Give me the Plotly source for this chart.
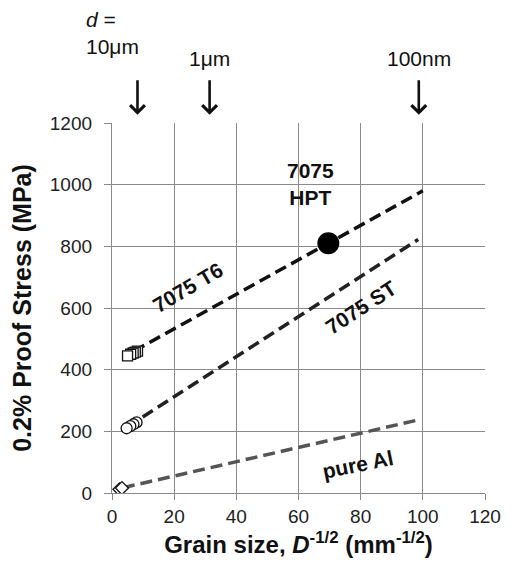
import plotly.graph_objects as go

# Measured data: grain size parameter D^-1/2 (mm^-1/2) vs 0.2% proof stress (MPa)
t6_x = [5.0, 6.0, 6.8, 7.5, 8.2]
t6_y = [445, 450, 454, 457, 460]
st_x = [4.7, 5.9, 6.9, 7.9]
st_y = [210, 217, 223, 229]
al_x = [2.4, 3.2]
al_y = [12, 16]
hpt_x = [69.6]
hpt_y = [810]

# Hall-Petch fit lines (end points)
t6_fit_x = [7.0, 100.0]
t6_fit_y = [460, 980]
st_fit_x = [5.0, 98.5]
st_fit_y = [215, 822]
al_fit_x = [3.5, 98.5]
al_fit_y = [17, 237]

# Grain sizes marked above the plot
d_labels = ["<i>d</i> =<br>10\u03bcm", "1\u03bcm", "100nm"]
d_x = [8.2, 31.4, 98.7]

x_ticks = [0, 20, 40, 60, 80, 100, 120]
y_ticks = [0, 200, 400, 600, 800, 1000, 1200]

FONT = "Liberation Sans, Arial, sans-serif"
INK = "#111111"
GRID = "#8a8a8a"

fig = go.Figure()

dash = "12px,6px"
fig.add_trace(go.Scatter(x=al_fit_x, y=al_fit_y, mode="lines",
                         line=dict(color="#555555", width=3.5, dash=dash)))
fig.add_trace(go.Scatter(x=st_fit_x, y=st_fit_y, mode="lines",
                         line=dict(color="#222222", width=3.5, dash=dash)))
fig.add_trace(go.Scatter(x=t6_fit_x, y=t6_fit_y, mode="lines",
                         line=dict(color="#111111", width=3.5, dash=dash)))

fig.add_trace(go.Scatter(x=t6_x[::-1], y=t6_y[::-1], mode="markers",
                         marker=dict(symbol="square", size=10, color="white",
                                     line=dict(color="#111111", width=1.3))))
fig.add_trace(go.Scatter(x=st_x[::-1], y=st_y[::-1], mode="markers",
                         marker=dict(symbol="circle", size=11, color="white",
                                     line=dict(color="#111111", width=1.3))))
fig.add_trace(go.Scatter(x=al_x, y=al_y, mode="markers",
                         marker=dict(symbol="diamond", size=10, color="white",
                                     line=dict(color="#111111", width=1.3))))
fig.add_trace(go.Scatter(x=hpt_x, y=hpt_y, mode="markers",
                         marker=dict(symbol="circle", size=22, color="black",
                                     line=dict(color="black", width=0))))

label_font = dict(family=FONT, size=21, color=INK)
annotations = []
# Series labels
annotations.append(dict(x=64.0, y=1003, text="<b>7075</b><br><b>HPT</b>",
                        showarrow=False, font=label_font))
annotations.append(dict(x=24.3, y=668, text="<b>7075 T6</b>", textangle=-30.5,
                        showarrow=False, font=label_font))
annotations.append(dict(x=80.0, y=603, text="<b>7075 ST</b>", textangle=-33,
                        showarrow=False, font=label_font))
annotations.append(dict(x=79.0, y=94, text="<b>pure Al</b>", textangle=-11.5,
                        showarrow=False, font=label_font))

# Arrows pointing at grain sizes
for xv in d_x:
    annotations.append(dict(x=xv, y=1.022, xref="x", yref="paper", text="",
                            showarrow=True, arrowhead=4, arrowsize=1.1,
                            arrowwidth=2.6, arrowcolor=INK, ax=0, ay=-36,
                            standoff=0, startstandoff=0))
top_font = dict(family=FONT, size=21, color=INK)
annotations.append(dict(x=-0.075, y=1.243, xref="paper", yref="paper",
                        text=d_labels[0], showarrow=False, align="left",
                        xanchor="left", yanchor="middle", font=top_font))
annotations.append(dict(x=d_x[1], y=1.21, xref="x", yref="paper", text=d_labels[1],
                        showarrow=False, font=top_font))
annotations.append(dict(x=d_x[2], y=1.21, xref="x", yref="paper", text=d_labels[2],
                        showarrow=False, font=top_font))

fig.update_layout(
    width=513, height=566,
    margin=dict(l=112, r=18, t=123, b=71),
    paper_bgcolor="white", plot_bgcolor="white",
    showlegend=False,
    font=dict(family=FONT, color=INK),
    annotations=annotations,
)
fig.update_xaxes(range=[0, 120], tickvals=x_ticks, showgrid=True,
                 gridcolor=GRID, gridwidth=1.3, zeroline=False,
                 showline=True, linecolor=GRID, linewidth=1.3,
                 ticks="outside", ticklen=6, tickcolor=GRID,
                 tickfont=dict(size=19, color="#222222"),
                 title=dict(text="<b>Grain size, <i>D</i><sup>-1/2</sup> (mm<sup>-1/2</sup>)</b>",
                            font=dict(size=24, color=INK), standoff=10))
fig.update_yaxes(range=[0, 1200], tickvals=y_ticks, showgrid=True,
                 gridcolor=GRID, gridwidth=1.3, zeroline=False,
                 showline=True, linecolor=GRID, linewidth=1.3,
                 ticks="outside", ticklen=7, tickcolor=GRID, ticklabelstandoff=8,
                 tickfont=dict(size=19, color="#222222"),
                 title=dict(text="<b>0.2% Proof Stress (MPa)</b>",
                            font=dict(size=25, color=INK), standoff=11))

fig.write_html("out.html")
